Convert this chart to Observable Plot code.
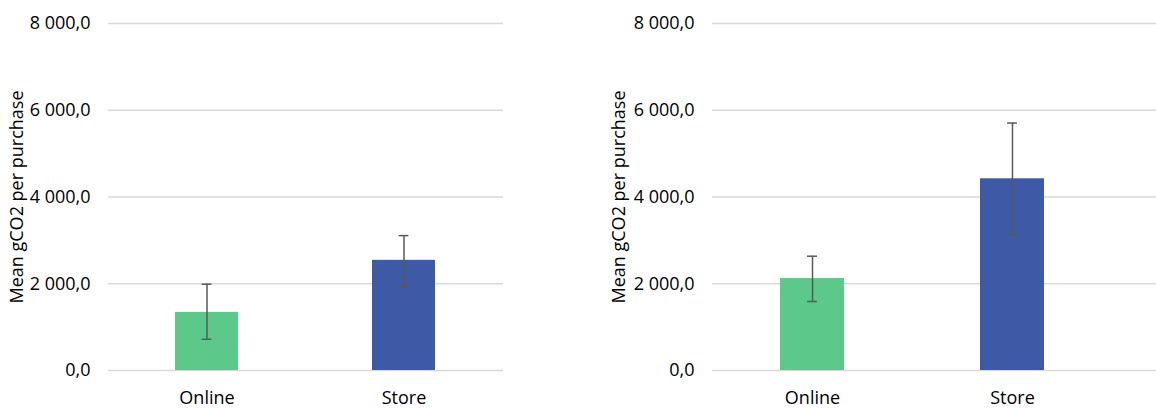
<!DOCTYPE html>
<html>
<head>
<meta charset="utf-8">
<script src="https://cdn.jsdelivr.net/npm/d3@7"></script>
<script src="https://cdn.jsdelivr.net/npm/@observablehq/plot@0.6"></script>
<style>
  html, body { margin: 0; padding: 0; background: #fff; }
  #wrap { display: flex; flex-direction: row; width: 1156px; height: 408px; overflow: hidden; }
  svg { font-family: "Open Sans", "Noto Sans", sans-serif; }
</style>
</head>
<body>
<div id="wrap"></div>
<script>
const categories = ["Online", "Store"];
const yTicks = [0, 2000, 4000, 6000, 8000];
const yLabel = "Mean gCO2 per purchase";

const leftMeans = [1340, 2540];
const leftLow = [720, 1930];
const leftHigh = [1990, 3110];

const rightMeans = [2120, 4420];
const rightLow = [1590, 3120];
const rightHigh = [2635, 5705];

const barColors = ["#5CC98A", "#3E5AA6"];

const locale = d3.formatLocale({decimal: ",", thousands: "\u00a0", grouping: [3], currency: ["", ""]});
const fmt = locale.format(",.1f");

function panel({means, low, high, width, marginLeft, marginRight, xRange, labelOffset}) {
  const data = categories.map((c, i) => ({cat: c, mean: means[i], low: low[i], high: high[i], color: barColors[i]}));
  const pi = 0.68, po = 0.34;
  const xOpts = {domain: categories, paddingInner: pi, paddingOuter: po, label: null};
  if (xRange) xOpts.range = xRange;
  const plotW = xRange ? (xRange[1] - xRange[0]) : (width - marginLeft - marginRight);
  const bw = plotW / categories.length * (1 - pi);
  const capInset = Math.max(0, (bw - 10) / 2);
  return Plot.plot({
    width,
    height: 408,
    marginTop: 23,
    marginBottom: 38,
    marginLeft,
    marginRight,
    style: {fontSize: "18px", color: "#000", background: "#fff"},
    x: xOpts,
    y: {domain: [0, 8000], ticks: yTicks, label: null},
    marks: [
      Plot.ruleY(yTicks, {stroke: "#D9D9D9", strokeWidth: 1.5}),
      Plot.barY(data, {x: "cat", y: "mean", fill: "color"}),
      Plot.ruleX(data, {x: "cat", y1: "low", y2: "high", stroke: "#595959", strokeWidth: 1.5}),
      Plot.tickY(data, {x: "cat", y: "low", stroke: "#595959", strokeWidth: 1.5, insetLeft: capInset, insetRight: capInset}),
      Plot.tickY(data, {x: "cat", y: "high", stroke: "#595959", strokeWidth: 1.5, insetLeft: capInset, insetRight: capInset}),
      Plot.axisY({ticks: yTicks, tickFormat: fmt, tickSize: 0, tickPadding: 18, fontSize: 18,
        label: yLabel, labelAnchor: "center", labelArrow: "none", labelOffset}),
      Plot.axisX({tickSize: 0, tickPadding: 21, fontSize: 18, label: null})
    ]
  });
}

const wrap = document.getElementById("wrap");
wrap.appendChild(panel({means: leftMeans, low: leftLow, high: leftHigh, width: 578, marginLeft: 108, marginRight: 75, labelOffset: 98}));
wrap.appendChild(panel({means: rightMeans, low: rightLow, high: rightHigh, width: 578, marginLeft: 134, marginRight: 0, xRange: [134, 534], labelOffset: 100}));
</script>
</body>
</html>
